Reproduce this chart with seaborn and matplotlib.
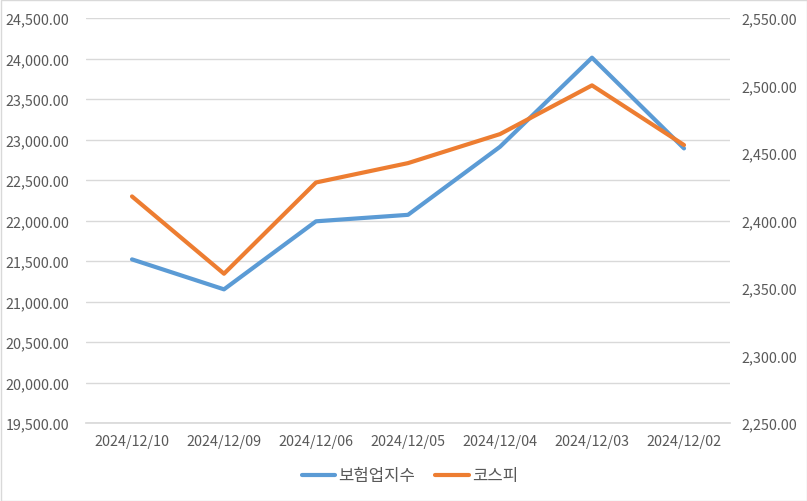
import matplotlib
matplotlib.use("Agg")
import matplotlib.pyplot as plt
import seaborn as sns
import pandas as pd
from matplotlib.ticker import FuncFormatter, MultipleLocator
from matplotlib.lines import Line2D

dates = ["2024/12/10", "2024/12/09", "2024/12/06", "2024/12/05", "2024/12/04", "2024/12/03", "2024/12/02"]
insurance = [21520, 21150, 21990, 22070, 22910, 24010, 22890]
kospi = [2417.84, 2360.58, 2428.16, 2442.51, 2464.00, 2500.10, 2455.91]
series_names = ["보험업지수", "코스피"]

sns.set_theme(style="white")
plt.rcParams['font.family'] = ['Noto Sans CJK KR', 'DejaVu Sans']

blue = "#5B9BD5"
orange = "#ED7D31"
tick_color = "#595959"

fig = plt.figure(figsize=(8.07, 5.02), dpi=100)
ax = fig.add_axes([86/807, 1 - 424/502, (730-86)/807, (424-19)/502])
ax2 = ax.twinx()

x = list(range(len(dates)))
df1 = pd.DataFrame({"x": x, "y": insurance})
df2 = pd.DataFrame({"x": x, "y": kospi})

sns.lineplot(data=df1, x="x", y="y", ax=ax, color=blue, linewidth=3.0, sort=False, zorder=3)
sns.lineplot(data=df2, x="x", y="y", ax=ax2, color=orange, linewidth=3.0, sort=False, zorder=3)

ax.set_xlim(-0.5, len(dates) - 0.5)
ax.set_ylim(19500, 24500)
ax2.set_ylim(2250, 2550)
ax.yaxis.set_major_locator(MultipleLocator(500))
ax2.yaxis.set_major_locator(MultipleLocator(50))
fmt = FuncFormatter(lambda v, p: f"{v:,.2f}")
ax.yaxis.set_major_formatter(fmt)
ax2.yaxis.set_major_formatter(fmt)
ax.set_xticks(x)
ax.set_xticklabels(dates)

ax.grid(axis="y", color="#D9D9D9", linewidth=1.0)
ax.set_axisbelow(True)
for a in (ax, ax2):
    for s in a.spines.values():
        s.set_visible(False)
    a.set_xlabel("")
    a.set_ylabel("")
ax.spines["bottom"].set_visible(True)
ax.spines["bottom"].set_color("#D9D9D9")

ax.tick_params(axis="y", colors=tick_color, labelsize=10.3, length=0, pad=12)
ax.tick_params(axis="x", colors=tick_color, labelsize=10.3, length=0, pad=8)
ax2.tick_params(axis="y", colors=tick_color, labelsize=10.3, length=0, pad=8)

handles = [Line2D([0], [0], color=blue, lw=3.0), Line2D([0], [0], color=orange, lw=3.0)]
fig.legend(handles, series_names, loc="center", bbox_to_anchor=(0.508, 1 - 477/502), ncol=2,
           frameon=False, fontsize=12, handlelength=2.0, columnspacing=1.2, handletextpad=0.2,
           labelcolor=tick_color)

border = plt.Rectangle((0.5/807, 0.5/502), 1 - 1/807, 1 - 1/502, transform=fig.transFigure,
                       fill=False, edgecolor="#D9D9D9", linewidth=1)
fig.patches.append(border)

fig.savefig("out.png", dpi=100)
